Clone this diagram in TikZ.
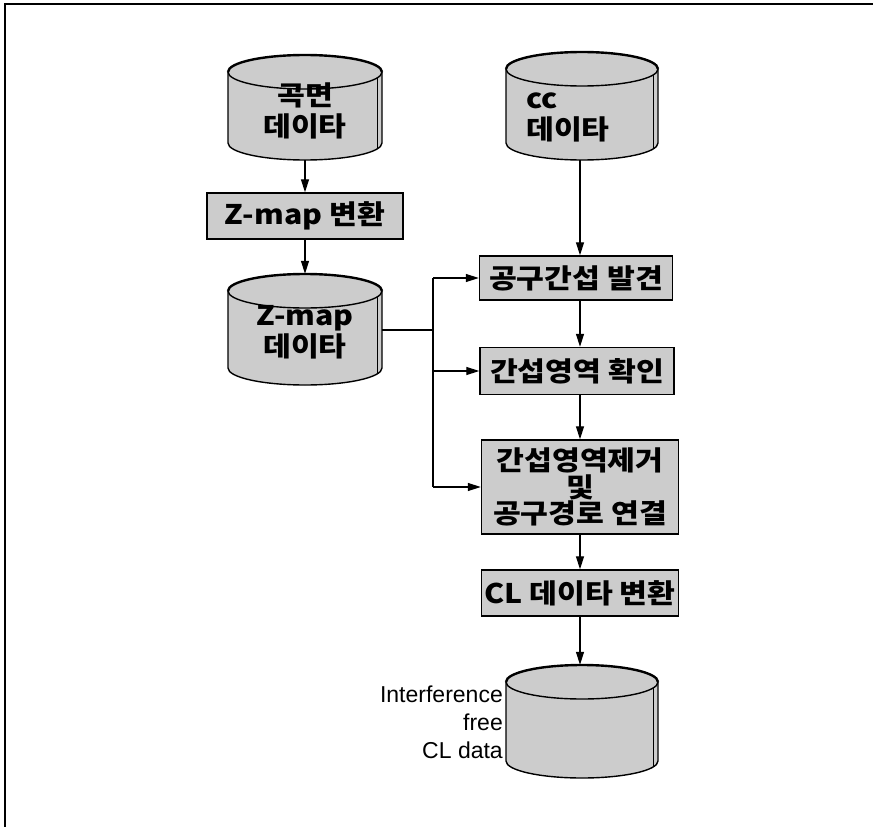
\documentclass[tikz,border=0pt]{standalone}
\usepackage{fontspec}
\usetikzlibrary{arrows.meta}
\newfontfamily\kr{Noto Sans CJK KR}[FakeStretch=1.12]
\newfontfamily\lab{Liberation Sans}
\definecolor{fillc}{gray}{0.8}
\tikzset{
  boxst/.style={draw, line width=1.4pt, fill=fillc, inner sep=0pt, font=\kr\bfseries\fontsize{27}{26.5}\selectfont, align=center},
  txtst/.style={inner sep=0pt, font=\kr\bfseries\fontsize{27}{31}\selectfont, align=center},
  anch/.style={inner sep=0pt, draw=none},
  arr/.style={line width=1.2pt, -{Triangle[length=13pt,width=8pt]}},
  ln/.style={line width=1.2pt}
}
% name, cx, yT (top ellipse centre), yB (bottom arc centre), rx ; ry = 17
\newcommand\mycyl[5]{%
  \fill[fillc] (#2-#5,#3) -- (#2-#5,#4)
     .. controls (#2-#5,#4+9.39) and (#2-0.5523*#5,#4+17) .. (#2,#4+17)
     .. controls (#2+0.5523*#5,#4+17) and (#2+#5,#4+9.39) .. (#2+#5,#4) -- (#2+#5,#3)
     .. controls (#2+#5,#3-9.39) and (#2+0.5523*#5,#3-17) .. (#2,#3-17)
     .. controls (#2-0.5523*#5,#3-17) and (#2-#5,#3-9.39) .. (#2-#5,#3) -- cycle;
  \draw[line width=1.4pt] (#2-#5,#3) -- (#2-#5,#4)
     .. controls (#2-#5,#4+9.39) and (#2-0.5523*#5,#4+17) .. (#2,#4+17)
     .. controls (#2+0.5523*#5,#4+17) and (#2+#5,#4+9.39) .. (#2+#5,#4) -- (#2+#5,#3);
  \draw[line width=1.4pt] (#2-#5,#3)
     .. controls (#2-#5,#3+9.39) and (#2-0.5523*#5,#3+17) .. (#2,#3+17)
     .. controls (#2+0.5523*#5,#3+17) and (#2+#5,#3+9.39) .. (#2+#5,#3);
  \draw[line width=2.4pt] (#2+#5,#3)
     .. controls (#2+#5,#3-9.39) and (#2+0.5523*#5,#3-17) .. (#2,#3-17)
     .. controls (#2-0.5523*#5,#3-17) and (#2-#5,#3-9.39) .. (#2-#5,#3);
  \draw[line width=0.8pt] (#2+#5-5,#3+6) -- (#2+#5-5,#4+6);
  \node[anch, minimum width=2*#5pt, minimum height=#4-#3+34pt] (#1) at (#2,{(#3+#4)/2}) {};
}
\begin{document}
\begin{tikzpicture}[x=1pt,y=-1pt]
\useasboundingbox (0,0) rectangle (873,827);
\draw[line width=2pt] (5,827) -- (5,4) -- (873,4);

% left column
\mycyl{cA}{305}{72}{143}{77}
\node[txtst] (cAt) at (305,111) {곡면\\데이타};
\node[boxst, minimum width=196pt, minimum height=46pt] (zb) at (305,216) {Z-map\ 변환};
\mycyl{cB}{305}{291}{368}{77}
\node[txtst] (cBt) at (305,332) {Z-map\\데이타};

% right column
\mycyl{cC}{582}{69}{143}{76}
\node[txtst, anchor=west, align=left] (cCt) at (526,117) {cc\\데이타};
\node[boxst, minimum width=193pt, minimum height=44pt] (b1) at (576,278) {공구간섭\ 발견};
\node[boxst, minimum width=194pt, minimum height=47pt] (b2) at (577,371) {간섭영역\ 확인};
\node[boxst, minimum width=197pt, minimum height=94pt] (b3) at (580,487) {간섭영역제거\\및\\공구경로\ 연결};
\node[boxst, minimum width=197pt, minimum height=46pt] (b4) at (580,593) {CL 데이타 변환};
\mycyl{cD}{582}{682}{761}{76}
\node[anchor=east, inner sep=0pt, align=right, font=\lab\fontsize{23}{28}\selectfont] (cDt) at (503,722) {Interference\\free\\CL data};

% connectors
\draw[arr] (cA.south) -- (zb.north);
\draw[arr] (zb.south) -- (cB.north);
\coordinate (j) at (433,330);
\draw[ln] (cB.east |- j) -- (j);
\draw[ln] (j |- b1.west) -- (j |- b3.west);
\draw[arr] (j |- b1.west) -- (b1.west);
\draw[arr] (j |- b2.west) -- (b2.west);
\draw[arr] (j |- b3.west) -- (b3.west);
\draw[arr] (cC.south -| 580,0) -- (b1.north -| 580,0);
\draw[arr] (b1.south -| 580,0) -- (b2.north -| 580,0);
\draw[arr] (b2.south -| 580,0) -- (b3.north -| 580,0);
\draw[arr] (b3.south) -- (b4.north);
\draw[arr] (b4.south) -- (b4.south |- cD.north);
\end{tikzpicture}
\end{document}
